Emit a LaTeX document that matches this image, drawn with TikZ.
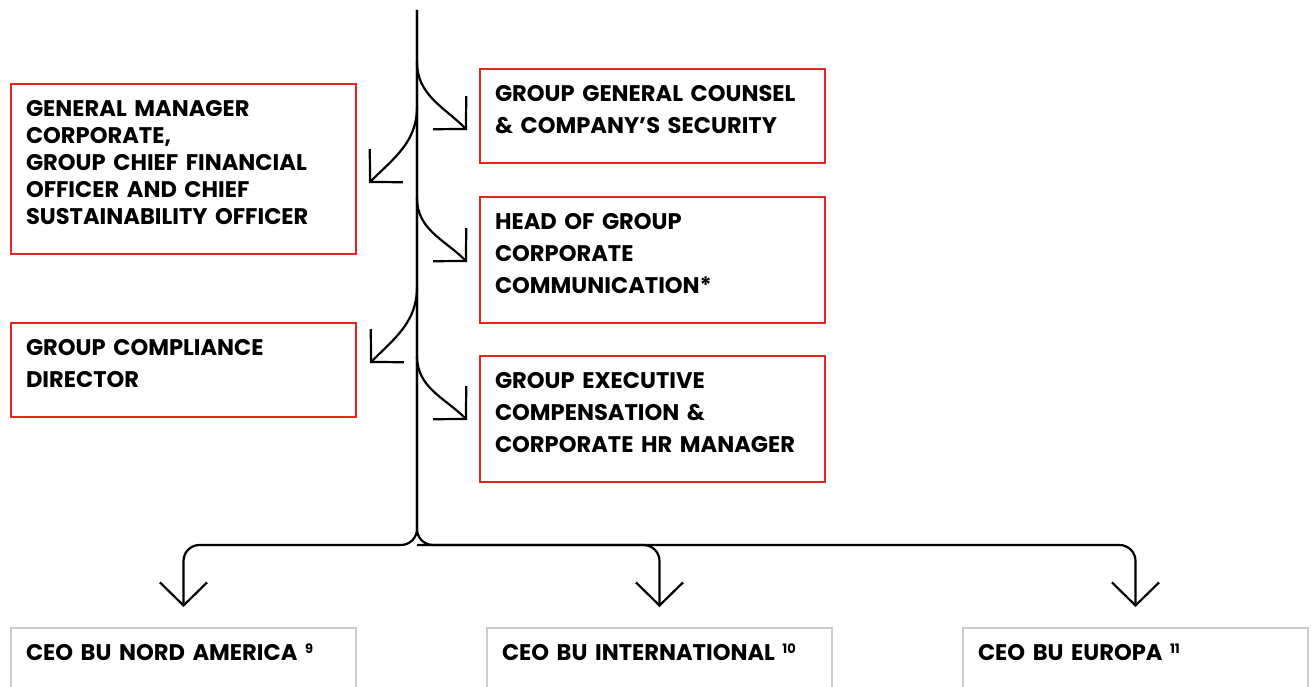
\documentclass[tikz,border=0pt]{standalone}
\usepackage{fontspec}
\setmainfont{Poppins}
\usepackage{tikz}
\usetikzlibrary{arrows.meta,positioning}
\definecolor{boxred}{RGB}{228,38,28}
\definecolor{boxgray}{RGB}{204,204,204}
\newcommand{\Pad}{\rule[-14pt]{0pt}{14pt}}
\newcommand{\Note}[1]{\raisebox{6.5pt}{\fontsize{13}{13}\selectfont #1}}

\tikzset{
  box/.style={anchor=north west, line width=2pt, text width=315pt, align=left,
    inner xsep=15pt, inner ysep=16pt, font=\bfseries\fontsize{22.6}{32}\selectfont},
  redbox/.style={box, draw=boxred},
  ceobox/.style={box, draw=boxgray, text height=16pt, text depth=70pt},
  link/.style={line width=2.2pt, -{Straight Barb[length=23pt,width=47pt]}},
}

\begin{document}
\begin{tikzpicture}[x=1pt,y=-1pt]
  \useasboundingbox (0,0) rectangle (1313,687);
  \clip (0,0) rectangle (1313,687);

  % Define nodes
  \node[redbox] (ggc) at (479,68) {GROUP GENERAL COUNSEL\\ \& COMPANY’S SECURITY\Pad};
  \node[redbox, font=\bfseries\fontsize{22.6}{27}\selectfont] (gm) at (10,83)
    {GENERAL MANAGER\\ CORPORATE,\\ GROUP CHIEF FINANCIAL\\ OFFICER AND CHIEF\\ SUSTAINABILITY OFFICER\Pad};
  \node[redbox] (hog) at (479,196) {HEAD OF GROUP\\ CORPORATE\\ COMMUNICATION*\Pad};
  \node[redbox] (gcd) at (10,322) {GROUP COMPLIANCE\\ DIRECTOR\Pad};
  \node[redbox] (gec) at (479,355) {GROUP EXECUTIVE\\ COMPENSATION \&\\ CORPORATE HR MANAGER\Pad};
  \node[ceobox] (na) at (10,627) {CEO BU NORD AMERICA \Note{9}};
  \node[ceobox] (int) at (486,627) {CEO BU INTERNATIONAL \Note{10}};
  \node[ceobox] (eu) at (962,627) {CEO BU EUROPA \Note{11}};

  \coordinate (top) at (417,10);
  \coordinate (split) at (417,545);
  \coordinate (b1) at (417,62);
  \coordinate (b2) at (417,107);
  \coordinate (b3) at (417,198);
  \coordinate (b4) at (417,287);
  \coordinate (b5) at (417,356);

  % Connect the nodes
  \draw[link, rounded corners=16pt] (top) -- (split) -| ([yshift=20pt]na.north);
  \draw[link, rounded corners=16pt] (top) -- (split) -| ([yshift=20pt]eu.north);
  \draw[link, rounded corners=16pt] (split) -| ([yshift=20pt]int.north);
  \draw[link] (b1) to[out=-90,in=135] ([xshift=-12pt,yshift=-62pt]ggc.north west);
  \draw[link] (b2) to[out=-90,in=45] ([xshift=12pt,yshift=-100pt]gm.north east);
  \draw[link] (b3) to[out=-90,in=135] ([xshift=-12pt,yshift=-66pt]hog.north west);
  \draw[link] (b4) to[out=-90,in=45] ([xshift=13pt,yshift=-41pt]gcd.north east);
  \draw[link] (b5) to[out=-90,in=135] ([xshift=-12pt,yshift=-65pt]gec.north west);
\end{tikzpicture}
\end{document}
